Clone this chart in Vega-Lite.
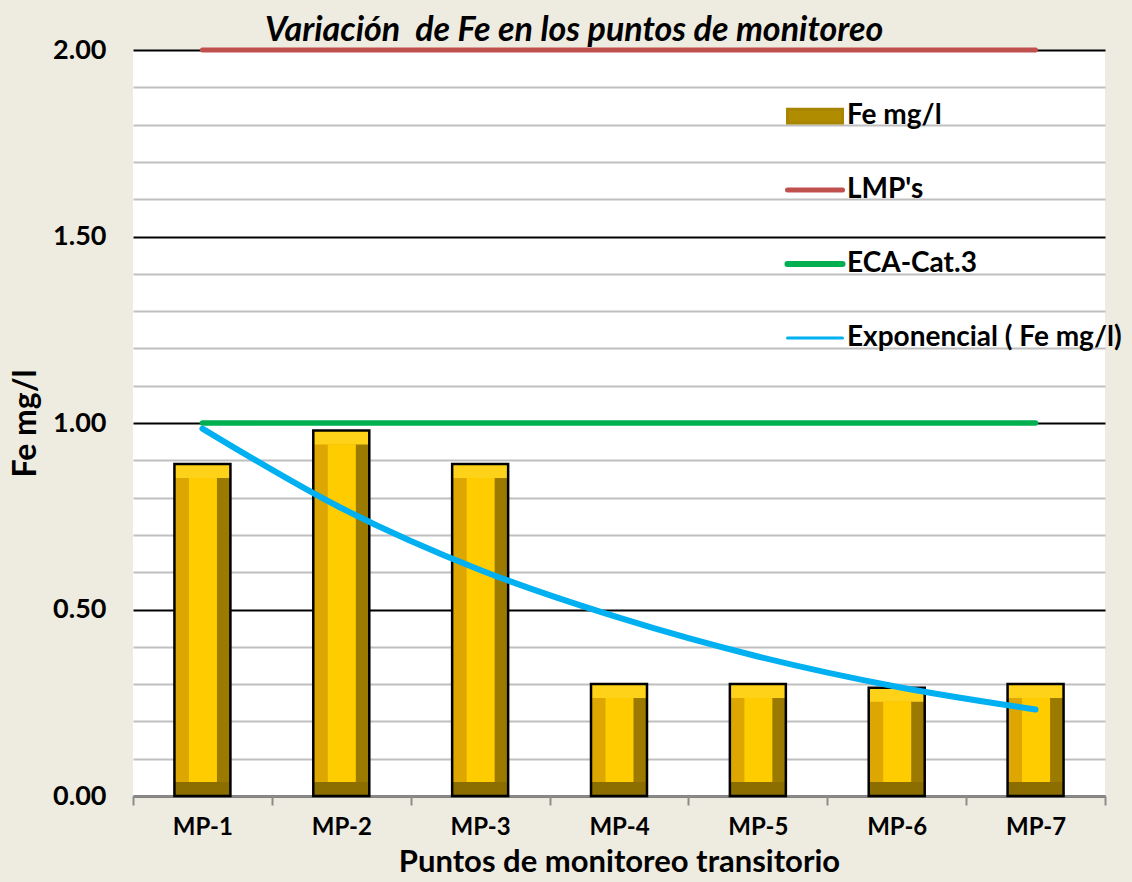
{
  "$schema": "https://vega.github.io/schema/vega-lite/v6.json",
  "width": 972,
  "height": 746,
  "autosize": {"type": "none"},
  "padding": {"left": 133, "top": 50, "right": 27, "bottom": 86},
  "background": "#EEEBE0",
  "view": {"fill": "white", "stroke": null},
  "config": {"font": "Lato"},
  "title": {
    "text": "Variación \u00a0de Fe en los puntos de monitoreo",
    "anchor": "start",
    "frame": "group",
    "dx": 132,
    "fontSize": 34,
    "fontStyle": "italic",
    "fontWeight": "bold",
    "font": "Lato",
    "color": "black",
    "offset": -12
  },
  "data": {
    "values": [
      {"punto": "MP-1", "valor": 0.89},
      {"punto": "MP-2", "valor": 0.98},
      {"punto": "MP-3", "valor": 0.89},
      {"punto": "MP-4", "valor": 0.30},
      {"punto": "MP-5", "valor": 0.30},
      {"punto": "MP-6", "valor": 0.29},
      {"punto": "MP-7", "valor": 0.30}
    ]
  },
  "encoding": {
    "x": {
      "field": "punto", "type": "nominal",
      "scale": {"paddingInner": 0, "paddingOuter": 0},
      "axis": {
        "title": "Puntos de monitoreo transitorio",
        "labelAngle": 0,
        "labelFont": "Lato", "labelFontSize": 24, "labelFontWeight": "bold", "labelColor": "black",
        "labelPadding": 10,
        "titleFont": "Lato", "titleFontSize": 31, "titleFontWeight": "bold", "titleColor": "black",
        "titlePadding": 8,
        "domainColor": "#8C8C8C", "domainWidth": 2,
        "tickColor": "#8C8C8C", "tickWidth": 2, "tickSize": 9, "tickBand": "extent",
        "grid": false
      }
    },
    "y": {
      "field": "valor", "type": "quantitative",
      "scale": {"domain": [0, 2], "nice": false},
      "axis": {
        "title": "Fe mg/l",
        "values": [0, 0.1, 0.2, 0.3, 0.4, 0.5, 0.6, 0.7, 0.8, 0.9, 1, 1.1, 1.2, 1.3, 1.4, 1.5, 1.6, 1.7, 1.8, 1.9, 2],
        "labelOverlap": false,
        "labelExpr": "round(datum.value * 10) % 5 === 0 ? format(datum.value, '.2f') : ''",
        "labelFont": "Lato", "labelFontSize": 27, "labelFontWeight": "bold", "labelColor": "black",
        "labelPadding": 27,
        "ticks": false, "tickSize": 0, "domain": false,
        "grid": true,
        "gridColor": {"condition": {"test": "round(datum.value * 10) % 5 === 0", "value": "black"}, "value": "#BFBFBF"},
        "gridWidth": 2,
        "titleFont": "Lato", "titleFontSize": 32, "titleFontWeight": "bold", "titleColor": "black",
        "titlePadding": 10
      }
    }
  },
  "layer": [
    {
      "mark": {"type": "bar", "width": 56, "fill": "#DDA600"},
      "encoding": {"y2": {"datum": 0}}
    },
    {
      "mark": {"type": "bar", "width": 14, "xOffset": 21, "fill": "#9C7A00"},
      "encoding": {"y2": {"datum": 0}}
    },
    {
      "mark": {"type": "bar", "width": 56, "yOffset": {"expr": "height - 14 - scale('y', datum.valor)"}, "fill": "#8C6D00"},
      "encoding": {"y2": {"datum": 0}}
    },
    {
      "mark": {"type": "bar", "width": 56, "y2Offset": 14, "fill": "#FFD21A"},
      "encoding": {"y2": {"field": "valor"}}
    },
    {
      "mark": {"type": "bar", "width": 28, "xOffset": 0.5, "yOffset": 14, "y2Offset": -14, "fill": "#FFCC00"},
      "encoding": {"y2": {"datum": 0}}
    },
    {
      "mark": {"type": "bar", "width": 56, "fillOpacity": 0, "stroke": "black", "strokeWidth": 2.5},
      "encoding": {"y2": {"datum": 0}}
    },
    {
      "data": {
        "values": [
          {"punto": "MP-1", "serie": "LMP's", "valor": 2.0},
          {"punto": "MP-2", "serie": "LMP's", "valor": 2.0},
          {"punto": "MP-3", "serie": "LMP's", "valor": 2.0},
          {"punto": "MP-4", "serie": "LMP's", "valor": 2.0},
          {"punto": "MP-5", "serie": "LMP's", "valor": 2.0},
          {"punto": "MP-6", "serie": "LMP's", "valor": 2.0},
          {"punto": "MP-7", "serie": "LMP's", "valor": 2.0},
          {"punto": "MP-1", "serie": "ECA-Cat.3", "valor": 1.0},
          {"punto": "MP-2", "serie": "ECA-Cat.3", "valor": 1.0},
          {"punto": "MP-3", "serie": "ECA-Cat.3", "valor": 1.0},
          {"punto": "MP-4", "serie": "ECA-Cat.3", "valor": 1.0},
          {"punto": "MP-5", "serie": "ECA-Cat.3", "valor": 1.0},
          {"punto": "MP-6", "serie": "ECA-Cat.3", "valor": 1.0},
          {"punto": "MP-7", "serie": "ECA-Cat.3", "valor": 1.0},
          {"punto": "MP-1", "serie": "Exponencial ( Fe mg/l)", "valor": 0.985},
          {"punto": "MP-2", "serie": "Exponencial ( Fe mg/l)", "valor": 0.772},
          {"punto": "MP-3", "serie": "Exponencial ( Fe mg/l)", "valor": 0.606},
          {"punto": "MP-4", "serie": "Exponencial ( Fe mg/l)", "valor": 0.478},
          {"punto": "MP-5", "serie": "Exponencial ( Fe mg/l)", "valor": 0.374},
          {"punto": "MP-6", "serie": "Exponencial ( Fe mg/l)", "valor": 0.293},
          {"punto": "MP-7", "serie": "Exponencial ( Fe mg/l)", "valor": 0.232}
        ]
      },
      "mark": {"type": "line", "interpolate": "monotone", "strokeCap": "round"},
      "encoding": {
        "detail": {"field": "serie"},
        "color": {
          "field": "serie", "type": "nominal",
          "scale": {
            "domain": ["Fe mg/l", "LMP's", "ECA-Cat.3", "Exponencial ( Fe mg/l)"],
            "range": ["#A88500", "#C0504D", "#00B050", "#00B0F0"]
          },
          "legend": {
            "title": null,
            "orient": "none",
            "legendX": 668,
            "legendY": 52,
            "padding": 0,
            "rowPadding": 46,
            "symbolSize": 3025,
            "labelOffset": 18,
            "labelFont": "Lato", "labelFontSize": 28, "labelFontWeight": "bold", "labelColor": "black",
            "labelLimit": 400,
            "encode": {
              "symbols": {
                "update": {
                  "shape": {"signal": "datum.value === 'Fe mg/l' ? 'M-1,-0.25H1V0.25H-1Z' : 'M-1,0H1'"},
                  "fill": {"signal": "datum.value === 'Fe mg/l' ? '#B08C00' : 'transparent'"},
                  "stroke": {"signal": "datum.value === 'Fe mg/l' ? '#000000' : scale('color', datum.value)"},
                  "strokeWidth": {"signal": "datum.value === 'Fe mg/l' ? 3 : datum.value === 'ECA-Cat.3' ? 6 : datum.value === 'Exponencial ( Fe mg/l)' ? 3 : 5"},
                  "strokeCap": {"value": "round"},
                  "strokeOpacity": {"value": 1},
                  "opacity": {"value": 1}
                }
              }
            }
          }
        },
        "strokeWidth": {
          "field": "serie", "type": "nominal",
          "scale": {"domain": ["LMP's", "ECA-Cat.3", "Exponencial ( Fe mg/l)"], "range": [5, 6, 3]},
          "legend": null
        }
      }
    }
  ]
}
